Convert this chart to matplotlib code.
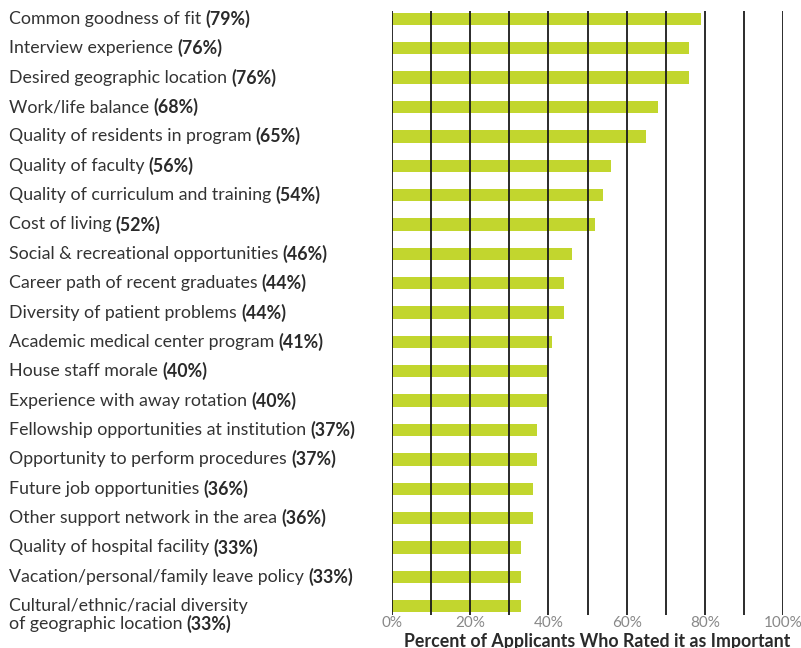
import matplotlib
matplotlib.use("Agg")
import matplotlib.pyplot as plt

categories = [
    "Common goodness of fit",
    "Interview experience",
    "Desired geographic location",
    "Work/life balance",
    "Quality of residents in program",
    "Quality of faculty",
    "Quality of curriculum and training",
    "Cost of living",
    "Social & recreational opportunities",
    "Career path of recent graduates",
    "Diversity of patient problems",
    "Academic medical center program",
    "House staff morale",
    "Experience with away rotation",
    "Fellowship opportunities at institution",
    "Opportunity to perform procedures",
    "Future job opportunities",
    "Other support network in the area",
    "Quality of hospital facility",
    "Vacation/personal/family leave policy",
    "Cultural/ethnic/racial diversity\nof geographic location",
]
percents = [79, 76, 76, 68, 65, 56, 54, 52, 46, 44, 44, 41, 40, 40, 37, 37, 36, 36, 33, 33, 33]
xticks = [0, 20, 40, 60, 80, 100]
xtick_labels = ["0%", "20%", "40%", "60%", "80%", "100%"]
xlabel = "Percent of Applicants Who Rated it as Important"

FONT = "Lato"
W, H = 801, 648
fig = plt.figure(figsize=(W / 100, H / 100), dpi=100)
ax = fig.add_axes([392 / W, 1 - 615 / H, 391 / W, (615 - 11) / H])

n = len(categories)
ys = list(range(n))
ax.barh(ys, percents, height=0.42, color="#c2d62e", zorder=1)
for g in range(0, 101, 10):
    ax.axvline(g, color="#1a1a1a", lw=1.3, zorder=3)

ax.set_xlim(0, 100)
ax.set_ylim(20.3, -0.27)
for s in ax.spines.values():
    s.set_visible(False)
ax.set_yticks([])
ax.set_xticks(xticks)
ax.set_xticklabels(xtick_labels, fontfamily=FONT, fontsize=11, color="#888888")
ax.tick_params(axis="x", length=0, pad=1)
ax.set_xlabel(xlabel, fontfamily=FONT, fontsize=12.8, fontweight="bold", color="#2a2a2a", labelpad=0)
ax.xaxis.set_label_coords(0.526, -0.029)

# labels
line_step = 18  # pixels
texts = []
for i, (name, p) in enumerate(zip(categories, percents)):
    lines = name.split("\n")
    for k, ln in enumerate(lines):
        t = ax.annotate(ln, xy=(9 / W, i), xycoords=("figure fraction", "data"),
                        xytext=(0, -k * line_step * 0.72), textcoords="offset points",
                        ha="left", va="center", fontfamily=FONT, fontsize=12.8,
                        color="#333333", annotation_clip=False)
        if k == len(lines) - 1:
            texts.append((t, p))

fig.canvas.draw()
for t, p in texts:
    ax.annotate(f"({p}%)", xy=(1, 0.5), xycoords=t,
                xytext=(3, 0), textcoords="offset points",
                ha="left", va="center", fontfamily=FONT, fontsize=12.8,
                fontweight="bold", color="#2a2a2a", annotation_clip=False)

fig.savefig("out.png", dpi=100)
